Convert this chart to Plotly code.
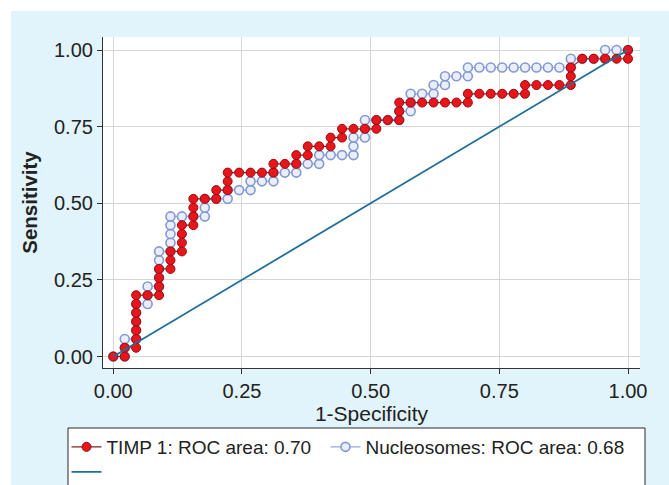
import plotly.graph_objects as go

# ---- data (counts of steps: 45 controls, 35 cases) ----
n_controls = 45
n_cases = 35

timp_fp = [0, 1, 1, 2, 2, 2, 2, 2, 2, 2, 3, 4, 4, 4, 4, 5, 5, 5, 6, 6,
           6, 6, 7, 7, 7, 7, 8, 9, 9, 10, 10, 10, 11, 12, 13, 14, 14, 15, 16, 16,
           17, 17, 18, 19, 19, 20, 20, 21, 22, 23, 23, 24, 25, 25, 25, 26, 27, 28, 29, 30,
           31, 31, 32, 33, 34, 35, 36, 36, 37, 38, 39, 40, 40, 40, 41, 42, 43, 44, 45, 45]
timp_tp = [0, 0, 1, 1, 2, 3, 4, 5, 6, 7, 7, 7, 8, 9, 10, 10, 11, 12, 12, 13,
           14, 15, 15, 16, 17, 18, 18, 18, 19, 19, 20, 21, 21, 21, 21, 21, 22, 22, 22, 23,
           23, 24, 24, 24, 25, 25, 26, 26, 26, 26, 27, 27, 27, 28, 29, 29, 29, 29, 29, 29,
           29, 30, 30, 30, 30, 30, 30, 31, 31, 31, 31, 31, 32, 33, 34, 34, 34, 34, 34, 35]

nuc_fp = [0, 1, 1, 1, 2, 2, 2, 2, 2, 3, 3, 3, 4, 4, 4, 4, 4, 5, 5, 5,
          5, 5, 6, 7, 8, 8, 8, 9, 10, 10, 11, 12, 12, 13, 14, 14, 15, 16, 16, 17,
          18, 18, 19, 20, 21, 21, 21, 22, 22, 22, 23, 24, 25, 25, 26, 26, 26, 27, 28, 28,
          29, 29, 30, 31, 31, 32, 33, 34, 35, 36, 37, 38, 39, 40, 40, 41, 42, 43, 43, 44, 45]
nuc_tp = [0, 0, 1, 2, 2, 3, 4, 5, 6, 6, 7, 8, 8, 9, 10, 11, 12, 12, 13, 14,
          15, 16, 16, 16, 16, 17, 18, 18, 18, 19, 19, 19, 20, 20, 20, 21, 21, 21, 22, 22,
          22, 23, 23, 23, 23, 24, 25, 25, 26, 27, 27, 27, 27, 28, 28, 29, 30, 30, 30, 31,
          31, 32, 32, 32, 33, 33, 33, 33, 33, 33, 33, 33, 33, 33, 34, 34, 34, 34, 35, 35, 35]

ref_x = [0, 1]
ref_y = [0, 1]

series_names = ["TIMP 1: ROC area: 0.70", "Nucleosomes: ROC area: 0.68"]
tick_vals = [0, 0.25, 0.5, 0.75, 1.0]
tick_text = ["0.00", "0.25", "0.50", "0.75", "1.00"]
x_title = "1-Specificity"
y_title = "Sensitivity"

# ---- layout geometry ----
W, H = 669, 485
L, R, T, B = 103, 29, 37, 117
PW, PH = W - L - R, H - T - B


def px(xpix):
    return (xpix - L) / PW


def py(ypix):
    return (H - B - ypix) / PH


FONT = "Liberation Sans, Arial, sans-serif"
TXT = "#222222"

timp_x = [v / n_controls for v in timp_fp]
timp_y = [v / n_cases for v in timp_tp]
nuc_x = [v / n_controls for v in nuc_fp]
nuc_y = [v / n_cases for v in nuc_tp]

fig = go.Figure()

fig.add_trace(go.Scatter(
    x=nuc_x, y=nuc_y, mode="lines+markers", name=series_names[1],
    line=dict(color="#93a7dc", width=1.2),
    marker=dict(symbol="circle", size=9, color="#e9eefa",
                line=dict(color="#8299d3", width=1.6)),
    legend="legend2", hoverinfo="skip"))

fig.add_trace(go.Scatter(
    x=timp_x, y=timp_y, mode="lines+markers", name=series_names[0],
    line=dict(color="#7e2424", width=1.2),
    marker=dict(symbol="circle", size=9, color="#e8161c",
                line=dict(color="#9a0c0c", width=1)),
    legend="legend", hoverinfo="skip"))

fig.add_trace(go.Scatter(
    x=ref_x, y=ref_y, mode="lines", name=" ",
    line=dict(color="#1f6f98", width=1.8),
    legend="legend3", hoverinfo="skip"))

axis_common = dict(
    tickvals=tick_vals, ticktext=tick_text,
    showgrid=True, gridcolor="#d6d6d6", gridwidth=1,
    zeroline=False, showline=True, linecolor="#333333", linewidth=1.2,
    ticks="outside", ticklen=5, tickwidth=1.2, tickcolor="#333333",
    tickfont=dict(family=FONT, size=20, color=TXT),
)

leg_common = dict(xanchor="left", yanchor="middle", bgcolor="rgba(0,0,0,0)", borderwidth=0,
                  font=dict(family=FONT, size=19, color=TXT))

fig.update_layout(
    width=W, height=H,
    margin=dict(l=L, r=R, t=T, b=B, autoexpand=False),
    paper_bgcolor="#e1f3fb",
    plot_bgcolor="#ffffff",
    showlegend=True,
    font=dict(family=FONT, color=TXT),
    xaxis=dict(range=[-0.02, 1.0233],
               title=dict(text=x_title, font=dict(family=FONT, size=21, color=TXT), standoff=2),
               **axis_common),
    yaxis=dict(range=[-0.0375, 1.0424],
               title=dict(text="<b>" + y_title + "</b>", font=dict(family=FONT, size=20.5, color=TXT),
                          standoff=10),
               **axis_common),
    legend=dict(x=px(66.5), y=py(447), **leg_common),
    legend2=dict(x=px(325.5), y=py(447), **leg_common),
    legend3=dict(x=px(66.5), y=py(472), **leg_common),
    shapes=[
        dict(type="rect", xref="paper", yref="paper", layer="below",
             x0=px(-5), x1=px(W + 5), y0=py(11), y1=py(-5),
             fillcolor="#ffffff", line=dict(width=0)),
        dict(type="rect", xref="paper", yref="paper", layer="below",
             x0=px(-5), x1=px(11), y0=py(H + 5), y1=py(-5),
             fillcolor="#ffffff", line=dict(width=0)),
        dict(type="rect", xref="paper", yref="paper", layer="below",
             x0=px(68), x1=px(645), y0=py(H + 10), y1=py(428),
             fillcolor="#ffffff", line=dict(color="#2a2a2a", width=1)),
    ],
)

fig.write_html("out.html", config={"displayModeBar": False},
               post_script="document.body.style.margin='0';"
                           "document.documentElement.style.overflow='hidden';")
